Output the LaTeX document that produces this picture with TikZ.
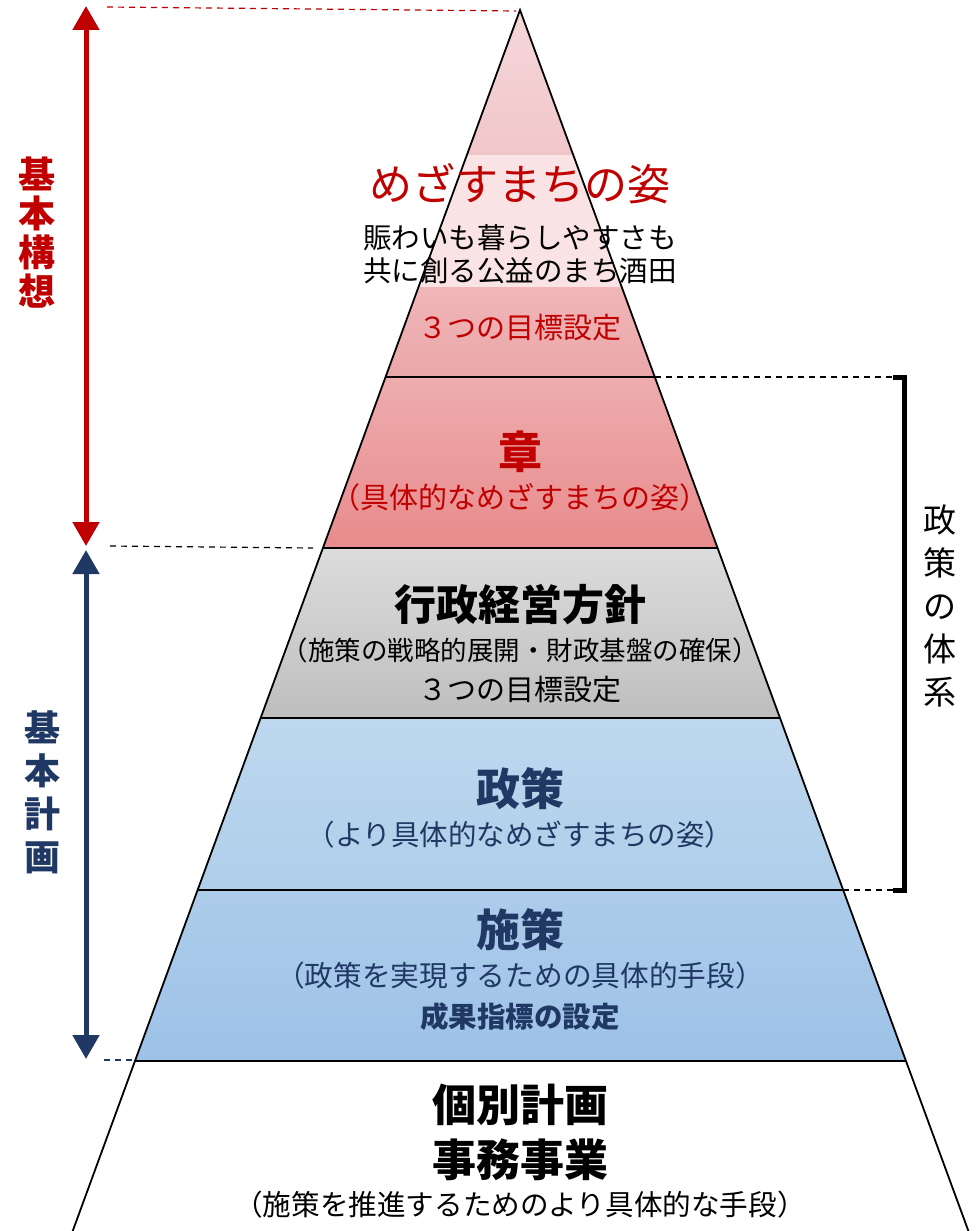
\documentclass[tikz,border=0pt]{standalone}
\usepackage{fontspec}
\setmainfont{Noto Sans CJK JP}
\usetikzlibrary{arrows.meta}
\definecolor{kred}{HTML}{C00000}
\definecolor{kblue}{HTML}{203864}
\definecolor{pkA}{HTML}{F5D7DA}
\definecolor{pkB}{HTML}{F1C6C9}
\definecolor{pkC}{HTML}{FAE3E5}
\definecolor{pkD}{HTML}{F0B6B8}
\definecolor{pkE}{HTML}{EBA7A9}
\definecolor{shA}{HTML}{EEACAE}
\definecolor{shB}{HTML}{E88B8C}
\definecolor{gyA}{HTML}{DCDCDC}
\definecolor{gyB}{HTML}{BEBEBE}
\definecolor{blA}{HTML}{BED8EE}
\definecolor{blB}{HTML}{AFCEEA}
\definecolor{blC}{HTML}{ADCCEA}
\definecolor{blD}{HTML}{9DC2E7}
\newcommand{\fsz}[1]{\fontsize{#1}{#1}\selectfont}
\tikzset{
  lbl/.style={inner sep=0pt, align=center},
  edge/.style={line width=1.8pt, black},
  dsh/.style={dash pattern=on 6pt off 5pt, line width=1.2pt},
  dbl/.style={line width=5pt, {Triangle[width=26pt,length=24pt]}-{Triangle[width=26pt,length=24pt]}},
}
\begin{document}
\begin{tikzpicture}[x=1pt,y=-1pt]
\useasboundingbox (0,0) rectangle (977,1231);
% pyramid coordinates
\coordinate (apex) at (520,10);
\coordinate (l155) at (466.9,155); \coordinate (r155) at (573.2,155);
\coordinate (l287) at (418.5,287); \coordinate (r287) at (621.7,287);
\coordinate (l377) at (385.6,377); \coordinate (r377) at (654.8,377);
\coordinate (l548) at (322.9,548); \coordinate (r548) at (717.6,548);
\coordinate (l718) at (260.7,718); \coordinate (r718) at (780.0,718);
\coordinate (l890) at (197.7,890); \coordinate (r890) at (843.1,890);
\coordinate (l1061) at (135.0,1061); \coordinate (r1061) at (905.9,1061);
\coordinate (l1231) at (72.7,1231); \coordinate (r1231) at (968.4,1231);
% fills
\shade[top color=pkA, bottom color=pkB] (apex) -- (r155) -- (l155) -- cycle;
\fill[pkC] (l155) -- (r155) -- (r287) -- (l287) -- cycle;
\shade[top color=pkD, bottom color=pkE] (l287) -- (r287) -- (r377) -- (l377) -- cycle;
\shade[top color=shA, bottom color=shB] (l377) -- (r377) -- (r548) -- (l548) -- cycle;
\shade[top color=gyA, bottom color=gyB] (l548) -- (r548) -- (r718) -- (l718) -- cycle;
\shade[top color=blA, bottom color=blB] (l718) -- (r718) -- (r890) -- (l890) -- cycle;
\shade[top color=blC, bottom color=blD] (l890) -- (r890) -- (r1061) -- (l1061) -- cycle;
% outline
\draw[edge] (l1231) -- (apex) -- (r1231);
\draw[edge] (l377) -- (r377);
\draw[edge] (l548) -- (r548);
\draw[edge] (l718) -- (r718);
\draw[edge] (l890) -- (r890);
\draw[edge] (l1061) -- (r1061);
% dashed guides
\coordinate (rd1) at (107,7); \coordinate (rd2) at (516,11);
\draw[dsh, kred] (rd1) -- (rd2);
\coordinate (bd1) at (110,546); \coordinate (bd2) at (313,548);
\draw[dsh, black] (bd1) -- (bd2);
\coordinate (ud1) at (104,1060); \coordinate (ud2) at (134,1060);
\draw[dsh, kblue] (ud1) -- (ud2);
\coordinate (br1) at (893,377); \coordinate (br2) at (893,890);
\draw[dsh, black] (r377) -- (br1);
\draw[dsh, black] (r890) -- (br2);
% bracket
\coordinate (bk1) at (904,377); \coordinate (bk2) at (904,890);
\draw[line width=5pt, black] (br1) -- (bk1) -- (bk2) -- (br2);
% arrows
\coordinate (ra1) at (86,6); \coordinate (ra2) at (86,546);
\draw[dbl, kred] (ra1) -- (ra2);
\coordinate (ba1) at (86,550); \coordinate (ba2) at (86,1059);
\draw[dbl, kblue] (ba1) -- (ba2);
% side labels
\node[lbl, kred, font=\bfseries\fontsize{37}{39}\selectfont] (kihonkoso) at (37,233) {基\\本\\構\\想};
\node[lbl, kblue, font=\bfseries\fontsize{36}{43}\selectfont] (kihonkeikaku) at (42,792) {基\\本\\計\\画};
\node[lbl, black, font=\fontsize{33}{43}\selectfont] (taikei) at (940,606) {政\\策\\の\\体\\系};
% pyramid texts
\node[lbl, kred, font=\fsz{43}] (mezasu) at (520,184) {めざすまちの姿};
\node[lbl, black, font=\fontsize{28.5}{33}\selectfont] (slogan) at (520,254) {賑わいも暮らしやすさも\\共に創る公益のまち酒田};
\node[lbl, kred, font=\fsz{29}] (mok1) at (520,328) {３つの目標設定};
\node[lbl, kred, font=\bfseries\fsz{44}] (sho) at (520,452) {章};
\node[lbl, kred, font=\fsz{29}] (shosub) at (520,497) {（具体的なめざすまちの姿）};
\node[lbl, black, font=\bfseries\fsz{42}] (gyosei) at (520,605) {行政経営方針};
\node[lbl, black, font=\fsz{26.5}] (gyoseisub) at (520,650) {（施策の戦略的展開・財政基盤の確保）};
\node[lbl, black, font=\fsz{29}] (mok2) at (520,690) {３つの目標設定};
\node[lbl, kblue, font=\bfseries\fsz{44}] (seisaku) at (520,789) {政策};
\node[lbl, kblue, font=\fsz{28.5}] (seisakusub) at (520,835) {（より具体的なめざすまちの姿）};
\node[lbl, kblue, font=\bfseries\fsz{44}] (shisaku) at (520,930) {施策};
\node[lbl, kblue, font=\fsz{28.7}] (shisakusub) at (520,976) {（政策を実現するための具体的手段）};
\node[lbl, kblue, font=\bfseries\fsz{28.5}] (seika) at (520,1017) {成果指標の設定};
\node[lbl, black, font=\bfseries\fsz{44}] (kobetsu) at (520,1105) {個別計画};
\node[lbl, black, font=\bfseries\fsz{44}] (jimu) at (520,1160) {事務事業};
\node[lbl, black, font=\fsz{28.6}] (jimusub) at (520,1205) {（施策を推進するためのより具体的な手段）};
\end{tikzpicture}
\end{document}
